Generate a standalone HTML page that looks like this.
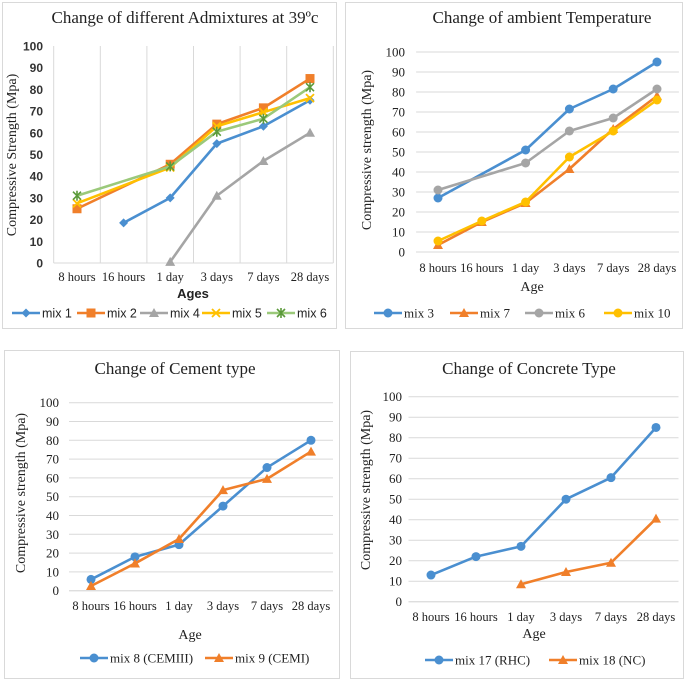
<!DOCTYPE html>
<html><head><meta charset="utf-8"><style>
body{margin:0;background:#fff;width:685px;height:679px;overflow:hidden}
svg{display:block}
.serif{font-family:"Liberation Serif",serif}
.sans{font-family:"Liberation Sans",sans-serif}
</style></head><body>
<svg id="c" width="685" height="679"></svg>
<script>
const categories=["8 hours","16 hours","1 day","3 days","7 days","28 days"];
const yTicks=[0,10,20,30,40,50,60,70,80,90,100];
// chart 1
const c1Names=["mix 1","mix 2","mix 4","mix 5","mix 6"];
const c1Mix1=[null,18.5,30,55,63,75];
const c1Mix2=[25,null,45.5,64,71.5,85];
const c1Mix4=[null,null,0.5,31,47,60];
const c1Mix5=[27.5,null,44,63,69.5,76];
const c1Mix6=[31,null,44.5,60.5,66.5,81];
// chart 2
const c2Names=["mix 3","mix 7","mix 6","mix 10"];
const c2Mix3=[27,null,51,71.5,81.5,95];
const c2Mix7=[3.5,15,24.5,41.5,61.5,78];
const c2Mix6=[31,null,44.5,60.5,67,81.5];
const c2Mix10=[5.5,15.5,25,47.5,60.5,76];
// chart 3
const c3Names=["mix 8 (CEMIII)","mix 9 (CEMI)"];
const c3Mix8=[6,18,24.5,45,65.5,80];
const c3Mix9=[2.5,14.5,27.5,53.5,59.5,74];
// chart 4
const c4Names=["mix 17 (RHC)","mix 18 (NC)"];
const c4Mix17=[13,22,27,50,60.5,85];
const c4Mix18=[null,null,8.5,14.5,19,40.5];

const NS="http://www.w3.org/2000/svg";
const svg=document.getElementById('c');
function el(tag,attrs,parent,text){const e=document.createElementNS(NS,tag);for(const k in attrs)e.setAttribute(k,attrs[k]);if(text!==undefined)e.textContent=text;(parent||svg).appendChild(e);return e;}
function marker(g,type,x,y,col){
  let m;
  if(type==='diamond')m=el('polygon',{points:`${x},${y-4.5} ${x+4.5},${y} ${x},${y+4.5} ${x-4.5},${y}`,fill:col},g);
  else if(type==='square')m=el('rect',{x:x-4.5,y:y-4.5,width:9,height:9,fill:col},g);
  else if(type==='triangle')m=el('polygon',{points:`${x},${y-5} ${x+5},${y+4} ${x-5},${y+4}`,fill:col},g);
  else if(type==='circle')m=el('circle',{cx:x,cy:y,r:4.5,fill:col},g);
  else if(type==='x')m=el('path',{d:`M${x-4},${y-4}L${x+4},${y+4}M${x+4},${y-4}L${x-4},${y+4}`,stroke:col,'stroke-width':1.8},g);
  else m=el('path',{d:`M${x-4},${y-4}L${x+4},${y+4}M${x+4},${y-4}L${x-4},${y+4}M${x},${y-5}L${x},${y+5}`,stroke:'#5b9a3a','stroke-width':1.6},g);
  
  
}
function chart(o){
  const g=el('g',{},svg);
  
  
  const b=el('rect',{x:o.box[0],y:o.box[1],width:o.box[2],height:o.box[3],fill:'#fff',stroke:'#d9d9d9','stroke-width':1},g);
  
  const sx=i=>o.cx0+i*o.dx;
  const sy=v=>o.y0+(o.y100-o.y0)*v/100;
  const tf=o.sans?'sans':'serif';
  const t=el('text',{x:o.title[0],y:o.title[1],'text-anchor':'middle','font-size':17,fill:'#222',class:'serif'},g,o.title[2]);
  
  if(o.vgrid){
    for(let i=0;i<=6;i++){const x=o.cx0-o.dx/2+i*o.dx;const l=el('line',{x1:x,x2:x,y1:sy(100),y2:sy(0),stroke:'#d9d9d9'},g);}
  } else {
    yTicks.forEach(v=>{const l=el('line',{x1:o.cx0-o.dx/2,x2:o.cx0+5.5*o.dx,y1:sy(v),y2:sy(v),stroke:'#d9d9d9'},g);});
  }
  const ax=el('line',{x1:o.cx0-o.dx/2,x2:o.cx0+5.5*o.dx,y1:sy(0),y2:sy(0),stroke:'#d9d9d9'},g);
  
  yTicks.forEach(v=>{const tx=el('text',{x:o.ylx,y:sy(v)+4.5,'text-anchor':'end','font-size':o.sans?12:13,'font-weight':o.sans?'bold':'normal',fill:o.sans?'#333':'#222',class:tf},g,String(v));});
  categories.forEach((c,i)=>{const tx=el('text',{x:sx(i),y:o.xly,'text-anchor':'middle','font-size':12.5,fill:'#222',class:'serif'},g,c);});
  const xt=el('text',{x:o.xt[0],y:o.xt[1],'text-anchor':'middle','font-size':o.sans?13:14,'font-weight':o.sans?'bold':'normal',fill:'#222',class:tf},g,o.xt[2]);
  
  const yt=el('text',{x:0,y:0,transform:`translate(${o.yt[0]},${o.yt[1]}) rotate(-90)`,'text-anchor':'middle','font-size':14,fill:'#222',class:'serif'},g,o.yt[2]);
  
  o.series.forEach((s,k)=>{
    const pts=[];s.data.forEach((v,i)=>{if(v!==null)pts.push([sx(i),sy(v)]);});
    const p=el('polyline',{points:pts.map(p=>p.join(',')).join(' '),fill:'none',stroke:s.col,'stroke-width':2.6,'stroke-linejoin':'round'},g);
    
    pts.forEach(q=>marker(g,s.m,q[0],q[1],s.col));
    const lx=o.leg[k],ly=o.legy;
    const lg=el('g',{},g);
    
    el('line',{x1:lx,x2:lx+28,y1:ly,y2:ly,stroke:s.col,'stroke-width':2.6},lg);
    marker(lg,s.m,lx+14,ly,s.col);
    el('text',{x:lx+30,y:ly+4.5,'font-size':o.sans?12.5:13,fill:'#222',class:tf},lg,s.name);
  });
}
const BL='#4a8fd0',OR='#f07f2a',GR='#a5a5a5',YE='#ffc000',GN='#9bc97a';
chart({id:'admixtures-chart',box:[2.5,2.5,334,326],sans:true,vgrid:true,cx0:77,dx:46.6,y0:263,y100:46,ylx:43,xly:281,
  title:[185,23,'Change of different Admixtures at 39ºc'],xt:[193,298,'Ages'],yt:[16,155,'Compressive Strength (Mpa)'],
  legy:313,leg:[12,77,140,202,267],
  series:[{name:c1Names[0],data:c1Mix1,col:BL,m:'diamond'},{name:c1Names[1],data:c1Mix2,col:OR,m:'square'},{name:c1Names[2],data:c1Mix4,col:GR,m:'triangle'},{name:c1Names[3],data:c1Mix5,col:YE,m:'x'},{name:c1Names[4],data:c1Mix6,col:GN,m:'star'}]});
chart({id:'temperature-chart',box:[345.5,2.5,337,326],vgrid:false,cx0:438,dx:43.8,y0:252,y100:52,ylx:405,xly:272,
  title:[542,23,'Change of ambient Temperature'],xt:[532,291,'Age'],yt:[371,150,'Compressive strength (Mpa)'],
  legy:313,leg:[374,450,525,604],
  series:[{name:c2Names[0],data:c2Mix3,col:BL,m:'circle'},{name:c2Names[1],data:c2Mix7,col:OR,m:'triangle'},{name:c2Names[2],data:c2Mix6,col:GR,m:'circle'},{name:c2Names[3],data:c2Mix10,col:YE,m:'circle'}]});
chart({id:'cement-type-chart',box:[4.5,350.5,335,328],vgrid:false,cx0:91,dx:44,y0:590.7,y100:402.7,ylx:59,xly:610,
  title:[175,374,'Change of Cement type'],xt:[190,639,'Age'],yt:[25,493,'Compressive strength (Mpa)'],
  legy:658,leg:[80,205],
  series:[{name:c3Names[0],data:c3Mix8,col:BL,m:'circle'},{name:c3Names[1],data:c3Mix9,col:OR,m:'triangle'}]});
chart({id:'concrete-type-chart',box:[350.5,351.5,333,327],vgrid:false,cx0:431,dx:45,y0:601.7,y100:396.7,ylx:402,xly:621,
  title:[529,374,'Change of Concrete Type'],xt:[534,638,'Age'],yt:[370,490,'Compressive strength (Mpa)'],
  legy:660,leg:[425,549],
  series:[{name:c4Names[0],data:c4Mix17,col:BL,m:'circle'},{name:c4Names[1],data:c4Mix18,col:OR,m:'triangle'}]});
</script>
</body></html>
